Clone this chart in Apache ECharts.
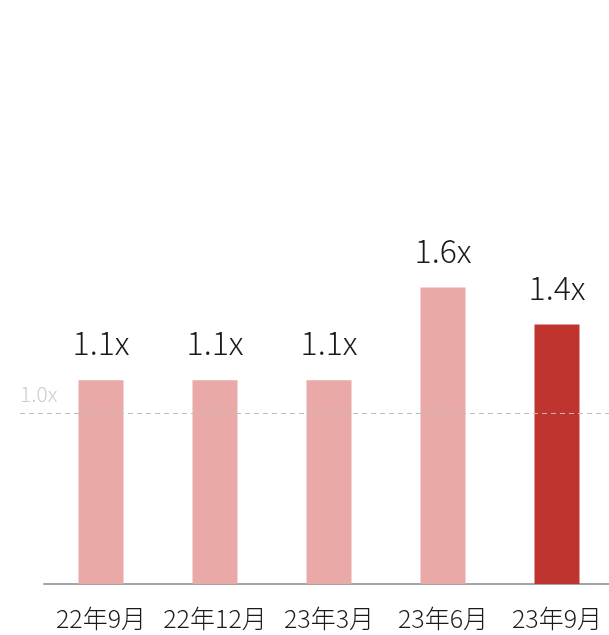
<!DOCTYPE html>
<html>
<head>
<meta charset="utf-8">
<script src="https://cdn.jsdelivr.net/npm/echarts@6/dist/echarts.min.js"></script>
<style>
  html, body { margin: 0; padding: 0; background: #fff; }
  #chart-container { width: 609px; height: 635px; }
</style>
</head>
<body>
<div id="chart-container"></div>
<script>
var dom = document.getElementById("chart-container");
var myChart = echarts.init(dom, null, { renderer: "canvas" });

var categories = ["22年9月", "22年12月", "23年3月", "23年6月", "23年9月"];
var values = [1.1, 1.1, 1.1, 1.6, 1.4];
var refValue = 0.92; // dashed "1.0x" guide sits a bit below the 1.1 bars
var refLabel = "1.0x";

var lightColor = "#e9a9a6";
var darkColor = "#bf342f";
var font = "'Noto Sans CJK JP', 'Noto Sans', sans-serif";

var option = {
  animation: false,
  grid: { left: 44, width: 570, top: 28, bottom: 51, outerBoundsMode: "none" },
  xAxis: {
    type: "category",
    data: categories,
    axisLine: { lineStyle: { color: "#a3a7ab", width: 2 } },
    axisTick: { show: false },
    axisLabel: {
      interval: 0,
      color: "#1a1a1a",
      fontSize: 25,
      fontFamily: font,
      fontWeight: 300,
      margin: 22,
    },
  },
  yAxis: {
    type: "value",
    min: 0,
    max: 3,
    show: false,
    splitLine: { show: false },
  },
  series: [
    {
      type: "bar",
      barWidth: 45,
      data: values.map(function (v, i) {
        return {
          value: v,
          itemStyle: { color: i === values.length - 1 ? darkColor : lightColor },
        };
      }),
      label: {
        show: true,
        position: "top",
        distance: 21,
        color: "#1a1a1a",
        fontSize: 32,
        fontFamily: font,
        fontWeight: 300,
        formatter: function (p) {
          return p.value.toFixed(1) + "x";
        },
      },
      markLine: {
        silent: true,
        symbol: "none",
        lineStyle: { color: "#bdbdbd", type: [5, 4], width: 1 },
        label: {
          position: "insideStartTop",
          formatter: refLabel,
          color: "#cccccc",
          fontSize: 21,
          fontFamily: font,
          fontWeight: 300,
          distance: [0, 9],
        },
        data: [[{ x: 20, yAxis: refValue }, { x: 609, yAxis: refValue }]],
      },
    },
  ],
};

myChart.setOption(option);
</script>
</body>
</html>
